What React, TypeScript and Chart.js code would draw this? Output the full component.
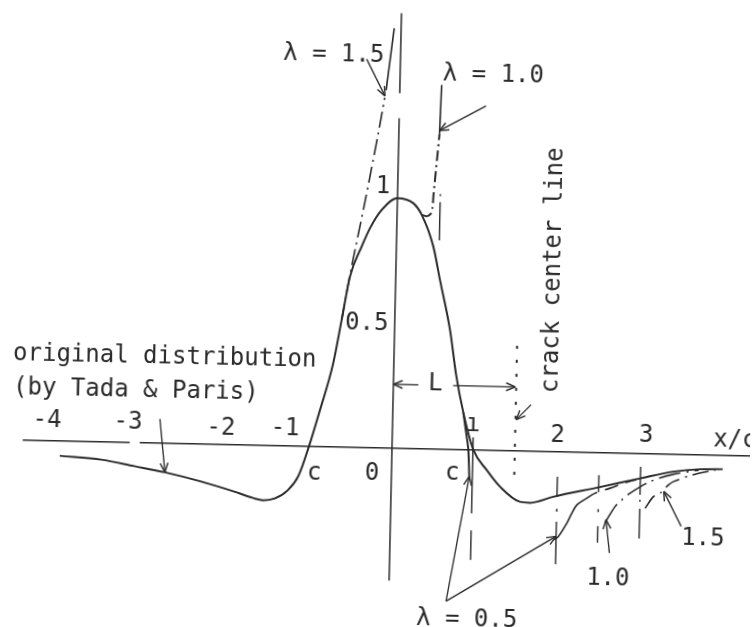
import { useEffect, useRef } from "react";
import { Chart, registerables } from "chart.js";

Chart.register(...registerables);

type Pt = [number, number];

// Axis ranges (x/c horizontally, normalised stress vertically)
const X_MIN = -4.7582;
const X_MAX = 4.3141;
const Y_MIN = -0.7175;
const Y_MAX = 1.7905;
const TILT_DEG = 1.25;

const INK = "#2a2a2a";
const FONT = '24px "DejaVu Sans Mono", "Liberation Mono", monospace';

// Original distribution (by Tada & Paris)
const originalDistribution: Pt[] = [
  [-4.0, -0.06], [-3.5, -0.072], [-3.1, -0.095], [-2.73, -0.117], [-2.3, -0.15],
  [-1.9, -0.187], [-1.66, -0.212], [-1.54, -0.22], [-1.4, -0.212], [-1.25, -0.18],
  [-1.12, -0.12], [-1.0, 0.0], [-0.877, 0.146], [-0.73, 0.334], [-0.64, 0.508],
  [-0.551, 0.682], [-0.418, 0.803], [-0.323, 0.877], [-0.187, 0.951], [0, 1.0],
  [0.192, 0.981], [0.297, 0.935], [0.445, 0.809], [0.534, 0.676], [0.668, 0.477],
  [0.755, 0.295], [0.85, 0.148], [0.98, 0.0], [1.147, -0.08], [1.311, -0.145],
  [1.556, -0.204], [1.677, -0.207], [1.956, -0.181], [2.516, -0.138], [2.996, -0.1],
  [3.395, -0.07], [3.717, -0.058], [3.99, -0.056],
];

// λ = 1.5, left crack tip near x/c = 0
const lambda15Left: Pt[] = [[-0.64, 0.508], [-0.551, 0.69], [-0.39, 0.983], [-0.248, 1.257], [-0.18, 1.4]];
const lambda15LeftUpper: Pt[] = [[-0.165, 1.43], [-0.083, 1.679]];

// λ = 1.0, left crack tip near x/c = 0.5
const lambda10Left: Pt[] = [[0.297, 0.935], [0.357, 0.93], [0.405, 0.94], [0.425, 0.965], [0.432, 1.009], [0.469, 1.169], [0.49, 1.26]];
const lambda10LeftUpper: Pt[] = [[0.49, 1.26], [0.503, 1.456]];

// λ = 0.5, left crack tip near x/c = 1
const lambda05Left: Pt[] = [[0.85, 0.148], [0.895, 0.055], [0.92, 0.0], [0.94, -0.12]];

// right crack tips
const lambda05Right: Pt[] = [[1.968, -0.354], [2.027, -0.34], [2.125, -0.286], [2.182, -0.246], [2.24, -0.212], [2.339, -0.188]];
const lambda05RightTail: Pt[] = [[2.339, -0.188], [2.458, -0.163], [2.637, -0.142], [2.8, -0.121], [2.95, -0.105]];
const lambda10Right: Pt[] = [[2.586, -0.28], [2.702, -0.215], [2.781, -0.188], [2.879, -0.16], [3.117, -0.112], [3.4, -0.08], [3.7, -0.062]];
const lambda15Right: Pt[] = [[3.064, -0.219], [3.161, -0.172], [3.241, -0.158], [3.339, -0.124], [3.398, -0.11], [3.618, -0.082], [3.9, -0.06]];

// crack tip markers
const tipX = [0.515, 0.975, 2.0, 2.5, 3.0];
const tipTop = [1.02, 0.05, -0.1, -0.09, -0.053];
const tipBottom = [0.835, -0.44, -0.45, -0.36, -0.34];
const tipDash = [
  [2, 6, 40, 100],
  [76, 17, 30, 200],
  [20, 12, 3, 10, 45, 100],
  [17, 17, 3, 14, 20, 100],
  [28, 5, 2, 7, 40, 100],
];

const crackCenterX = 1.48;
const crackCenterTop = 0.42;
const crackCenterBottom = -0.117;
const dimensionY = 0.255;

// axes pieces
const xAxisLeft: Pt[] = [[-4.45, 0], [-3.16, 0]];
const xAxisRight: Pt[] = [[-3.04, 0], [4.4, 0]];
const yAxisLower: Pt[] = [[0, -0.53], [0, 1.32]];
const yAxisUpper: Pt[] = [[0, 1.42], [0, 1.74]];

// pointers from the labels
const arrowLambda15: Pt[] = [[-0.407, 1.553], [-0.177, 1.407]];
const arrowLambda10: Pt[] = [[1.043, 1.376], [0.487, 1.273]];
const arrowOriginal: Pt[] = [[-2.803, 0.096], [-2.729, -0.117]];
const leaderLambda05a: Pt[] = [[0.691, -0.608], [0.939, -0.106]];
const leaderLambda05b: Pt[] = [[0.691, -0.608], [1.999, -0.339]];
const arrowLower10: Pt[] = [[2.646, -0.401], [2.597, -0.268]];
const arrowLower15: Pt[] = [[3.503, -0.288], [3.285, -0.15]];
const arrowCrack: Pt[] = [[1.663, 0.185], [1.487, 0.124]];
const dimLeft: Pt[] = [[0.3, dimensionY], [0.0, dimensionY]];
const dimRight: Pt[] = [[0.72, dimensionY], [crackCenterX - 0.01, dimensionY]];

type Label = { text: string; x: number; y: number; align: CanvasTextAlign; rot?: number };
const labels: Label[] = [
  { text: "λ = 1.5", x: -1.415, y: 1.542, align: "left" },
  { text: "λ = 1.0", x: 0.514, y: 1.476, align: "left" },
  { text: "1", x: -0.091, y: 1.02, align: "right" },
  { text: "0.5", x: -0.0755, y: 0.472, align: "right" },
  { text: "original distribution", x: -4.589, y: 0.319, align: "left" },
  { text: "(by Tada & Paris)", x: -4.58, y: 0.183, align: "left" },
  { text: "-4", x: -4.162, y: 0.055, align: "center" },
  { text: "-3", x: -3.186, y: 0.053, align: "center" },
  { text: "-2", x: -2.066, y: 0.037, align: "center" },
  { text: "-1", x: -1.293, y: 0.043, align: "center" },
  { text: "c", x: -0.931, y: -0.135, align: "center" },
  { text: "0", x: -0.233, y: -0.13, align: "center" },
  { text: "c", x: 0.731, y: -0.123, align: "center" },
  { text: "ı", x: 0.97, y: 0.075, align: "center" },
  { text: "2", x: 1.992, y: 0.04, align: "center" },
  { text: "3", x: 3.059, y: 0.047, align: "center" },
  { text: "x/c", x: 3.867, y: 0.033, align: "left" },
  { text: "L", x: 0.419, y: 0.235, align: "left" },
  { text: "crack center line", x: 1.973, y: 0.234, align: "left", rot: -Math.PI / 2 },
  { text: "λ = 0.5", x: 0.336, y: -0.706, align: "left" },
  { text: "1.0", x: 2.373, y: -0.531, align: "left" },
  { text: "1.5", x: 3.507, y: -0.363, align: "left" },
];

const series = (pts: Pt[], extra: Record<string, unknown> = {}) => ({
  data: pts.map(([x, y]) => ({ x, y })),
  showLine: true,
  borderColor: INK,
  borderWidth: 1.6,
  pointRadius: 0,
  tension: 0,
  fill: false,
  ...extra,
});

const DASH_DOT = [11, 4, 2, 4];

const datasets: any[] = [
  series(xAxisLeft, { borderWidth: 1.5 }),
  series(xAxisRight, { borderWidth: 1.5 }),
  series(yAxisLower, { borderWidth: 1.5 }),
  series(yAxisUpper, { borderWidth: 1.5 }),
  series(originalDistribution, { borderWidth: 2, cubicInterpolationMode: "monotone" }),
  series(lambda15Left, { borderDash: [16, 5, 2, 5], tension: 0.3 }),
  series(lambda15LeftUpper, { borderWidth: 1.6 }),
  series(lambda10Left, { borderDash: DASH_DOT, tension: 0.3, borderWidth: 2 }),
  series(lambda10LeftUpper, { borderWidth: 1.6 }),
  series(lambda05Left, { borderWidth: 2, tension: 0.3 }),
  series(lambda05Right, { borderWidth: 1.6, tension: 0.3 }),
  series(lambda05RightTail, { borderDash: [14, 8], tension: 0.3 }),
  series(lambda10Right, { borderDash: [22, 6, 2, 6], tension: 0.3 }),
  series(lambda15Right, { borderDash: [16, 6, 2, 6], tension: 0.3 }),
  ...tipX.map((x, i) =>
    series([[x, tipTop[i]], [x, tipBottom[i]]], { borderWidth: 1.4, borderDash: tipDash[i] })
  ),
  series([[crackCenterX, crackCenterTop], [crackCenterX, crackCenterBottom]], { borderWidth: 2, borderDash: [3, 11] }),
  series(arrowLambda15, { borderWidth: 1.3, arrowHead: true }),
  series(arrowLambda10, { borderWidth: 1.3, arrowHead: true }),
  series(arrowOriginal, { borderWidth: 1.3, arrowHead: true }),
  series(leaderLambda05a, { borderWidth: 1.3, arrowHead: true }),
  series(leaderLambda05b, { borderWidth: 1.3, arrowHead: true }),
  series(arrowLower10, { borderWidth: 1.3, arrowHead: true }),
  series(arrowLower15, { borderWidth: 1.3, arrowHead: true }),
  series(arrowCrack, { borderWidth: 1.3, arrowHead: true }),
  series(dimLeft, { borderWidth: 1.3, arrowHead: true }),
  series(dimRight, { borderWidth: 1.3, arrowHead: true }),
];

const arrowPlugin = {
  id: "arrowHeads",
  afterDatasetsDraw(chart: any) {
    const ctx: CanvasRenderingContext2D = chart.ctx;
    chart.data.datasets.forEach((ds: any, i: number) => {
      if (!ds.arrowHead) return;
      const pts = chart.getDatasetMeta(i).data;
      const tip = pts[pts.length - 1];
      const from = pts[pts.length - 2];
      const ang = Math.atan2(tip.y - from.y, tip.x - from.x);
      const len = 10;
      ctx.save();
      ctx.strokeStyle = INK;
      ctx.lineWidth = 1.4;
      ctx.beginPath();
      for (const s of [-1, 1]) {
        ctx.moveTo(tip.x, tip.y);
        ctx.lineTo(tip.x - len * Math.cos(ang + s * 0.4), tip.y - len * Math.sin(ang + s * 0.4));
      }
      ctx.stroke();
      ctx.restore();
    });
  },
};

const labelPlugin = {
  id: "figureLabels",
  afterDatasetsDraw(chart: any) {
    const ctx: CanvasRenderingContext2D = chart.ctx;
    const xs = chart.scales.x;
    const ys = chart.scales.y;
    ctx.save();
    ctx.fillStyle = INK;
    ctx.font = FONT;
    ctx.textBaseline = "alphabetic";
    for (const l of labels) {
      ctx.save();
      ctx.translate(xs.getPixelForValue(l.x), ys.getPixelForValue(l.y));
      if (l.rot) ctx.rotate(l.rot);
      ctx.textAlign = l.align;
      ctx.fillText(l.text, 0, 0);
      ctx.restore();
    }
    ctx.restore();
  },
};

export default function App() {
  const ref = useRef<HTMLCanvasElement>(null);
  useEffect(() => {
    const canvas = ref.current;
    if (!canvas) return;
    const chart = new Chart(canvas, {
      type: "scatter",
      data: { datasets },
      options: {
        animation: false,
        responsive: false,
        devicePixelRatio: 1,
        events: [],
        layout: { padding: 0 },
        plugins: { legend: { display: false }, tooltip: { enabled: false } },
        scales: {
          x: { type: "linear", min: X_MIN, max: X_MAX, display: false },
          y: { type: "linear", min: Y_MIN, max: Y_MAX, display: false },
        },
      } as any,
      plugins: [arrowPlugin, labelPlugin],
    });
    return () => chart.destroy();
  }, []);
  return (
    <div
      style={{
        position: "fixed",
        left: 0,
        top: 0,
        width: 753,
        height: 627,
        overflow: "hidden",
        background: "#fff",
      }}
    >
      <canvas
        ref={ref}
        width={753}
        height={627}
        style={{ display: "block", transform: `rotate(${TILT_DEG}deg)`, transformOrigin: "50% 50%" }}
      />
    </div>
  );
}
